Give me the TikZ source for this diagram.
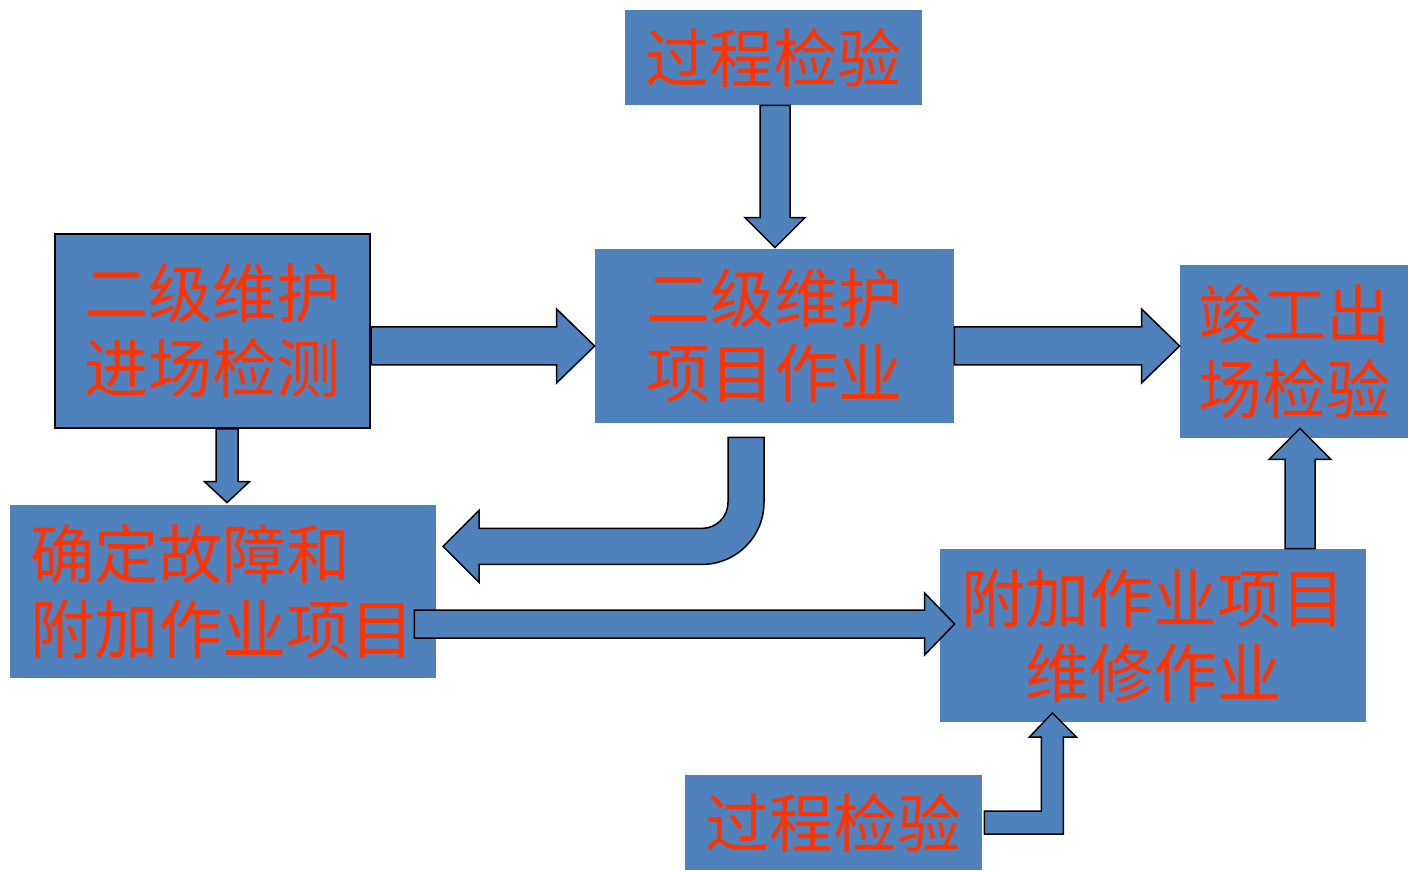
\documentclass[tikz,border=0pt]{standalone}
\usepackage{fontspec}
\newfontfamily\cjk{Noto Sans CJK SC}
\usetikzlibrary{calc}
\definecolor{boxblue}{HTML}{4F81BD}
\definecolor{txtred}{HTML}{FF3300}
\tikzset{
    box/.style={fill=boxblue, text=txtred, inner sep=0pt, align=center,
        font=\cjk\fontsize{32}{37.5}\selectfont}, % sets the look of every step box
    arrowshape/.style={fill=boxblue, draw=black, line width=0.75pt, line join=miter}, % outline of the block arrows
    fat arrow/.style n args={3}{arrowshape, to path={
        ($(\tikztostart)!#1!90:(\tikztotarget)$)
        -- ($(\tikztotarget)!#3!(\tikztostart)!#1!-90:(\tikztostart)$)
        -- ($(\tikztotarget)!#3!(\tikztostart)!#2!-90:(\tikztostart)$)
        -- (\tikztotarget)
        -- ($(\tikztotarget)!#3!(\tikztostart)!#2!90:(\tikztostart)$)
        -- ($(\tikztotarget)!#3!(\tikztostart)!#1!90:(\tikztostart)$)
        -- ($(\tikztostart)!#1!-90:(\tikztotarget)$)
        -- cycle}}, % straight block arrow: shaft half width, head half width, head length
}
\begin{document}
\begin{tikzpicture}[x=0.5pt, y=-0.5pt]
        \useasboundingbox (0,0) rectangle (1408,871);

        % Nodes
        \node[box, minimum width=148.5pt, minimum height=47.5pt] (pc1) at (773.5,57.5) {过程检验};
        \node[box, draw=black, line width=1pt, minimum width=157.5pt, minimum height=97pt] (jc) at (212.5,331) {二级维护\\进场检测};
        \node[box, minimum width=179.5pt, minimum height=87pt] (xm) at (774.5,336) {二级维护\\项目作业};
        \node[box, minimum width=114pt, minimum height=86.5pt] (jg) at (1294,351.5) {竣工出\\场检验};
        \node[box, align=left, minimum width=213pt, minimum height=86.5pt] (qd) at (223,591.5) {确定故障和\\附加作业项目};
        \node[box, minimum width=213pt, minimum height=86.5pt] (fj) at (1153,635.5) {附加作业项目\\维修作业};
        \node[box, minimum width=148.5pt, minimum height=47.5pt] (pc2) at (833.5,822.5) {过程检验};

        % edges
        \draw[fat arrow={7.5pt}{15pt}{15pt}] ([xshift=0.75pt]pc1.south) to ([xshift=0.25pt,yshift=0.5pt]xm.north);
        \draw[fat arrow={9.5pt}{18.5pt}{19pt}] ([yshift=-7.5pt]jc.east) to ([yshift=-5pt]xm.west);
        \draw[fat arrow={9.5pt}{18.5pt}{19pt}] ([yshift=-5pt]xm.east) to ([yshift=2.75pt]jg.west);
        \draw[fat arrow={5.5pt}{11.25pt}{10.5pt}] ([xshift=7.25pt]jc.south) to ([xshift=2pt,yshift=1pt]qd.north);
        \draw[fat arrow={7pt}{15.5pt}{15pt}] ([xshift=-11pt,yshift=-16.25pt]qd.east) to ([xshift=7.5pt,yshift=5.75pt]fj.west);
        \draw[fat arrow={7.5pt}{15.5pt}{15.5pt}] ([xshift=73.5pt]fj.north) to ([xshift=3pt,yshift=5pt]jg.south);

        % bent arrows
        \draw[arrowshape] ([xshift=-14.25pt,yshift=-7pt]xm.south) ++(18,0) -- ++(0,65)
            arc[start angle=0, end angle=90, radius=62] -- ++(-223,0) -- ++(0,18)
            -- ++(-36,-36) -- ++(36,-36) -- ++(0,18) -- ++(223,0)
            arc[start angle=90, end angle=0, radius=26] -- ++(0,-65) -- cycle;
        \draw[arrowshape] ([xshift=1pt]pc2.east) ++(0,-11.5) -- ++(57,0) -- ++(0,-74)
            -- ++(-12,0) -- ++(23,-24) -- ++(24,24) -- ++(-13,0) -- ++(0,97) -- ++(-79,0) -- cycle;
\end{tikzpicture}
\end{document}
